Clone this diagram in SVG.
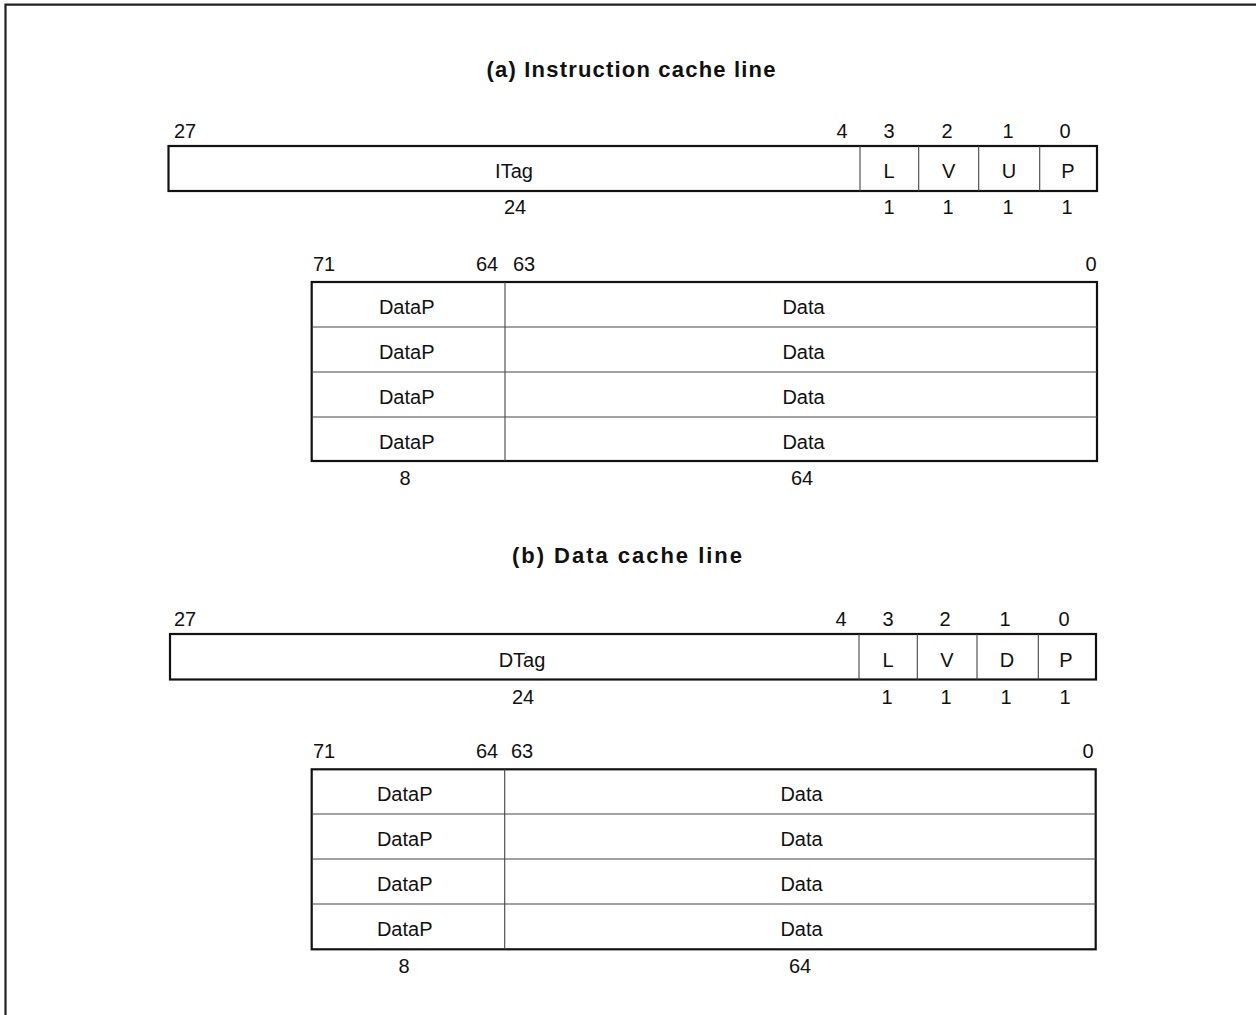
<svg xmlns="http://www.w3.org/2000/svg" width="1256" height="1015" viewBox="0 0 1256 1015">
<style>
text{font-family:"Liberation Sans",Arial,sans-serif;font-size:20px;fill:#111;text-anchor:middle}
.title{font-weight:bold;font-size:22px}
.st{text-anchor:start}
.outer{fill:none;stroke:#111;stroke-width:2.2}
.inner{fill:none;stroke:#444;stroke-width:1.1}
</style>
<rect width="1256" height="1015" fill="#fff"/>
<path d="M5.5,1015 V4.7 H1256" fill="none" stroke="#222" stroke-width="2.2"/>

<!-- (a) Instruction cache line -->
<text class="title" x="631" y="77" textLength="289" lengthAdjust="spacing">(a)  Instruction cache line</text>

<g id="itag-register">
<text class="st" x="174" y="138">27</text>
<text x="842" y="138">4</text>
<text x="889" y="138">3</text>
<text x="947" y="138">2</text>
<text x="1008" y="138">1</text>
<text x="1065" y="138">0</text>
<rect class="outer" x="168.5" y="146" width="928.5" height="45"/>
<line class="inner" x1="860" y1="146" x2="860" y2="191"/>
<line class="inner" x1="918.7" y1="146" x2="918.7" y2="191"/>
<line class="inner" x1="978.7" y1="146" x2="978.7" y2="191"/>
<line class="inner" x1="1039.7" y1="146" x2="1039.7" y2="191"/>
<text x="514" y="178">ITag</text>
<text x="889" y="178">L</text>
<text x="948.7" y="178">V</text>
<text x="1009" y="178">U</text>
<text x="1068" y="178">P</text>
<text x="515" y="214">24</text>
<text x="889" y="214">1</text>
<text x="948" y="214">1</text>
<text x="1008" y="214">1</text>
<text x="1067" y="214">1</text>
</g>

<g id="idata-array">
<text class="st" x="313" y="271">71</text>
<text x="487" y="271">64</text>
<text x="524" y="271">63</text>
<text x="1091" y="271">0</text>
<rect class="outer" x="311.7" y="282" width="785.3" height="179"/>
<line class="inner" x1="505" y1="282" x2="505" y2="461"/>
<line class="inner" x1="311.7" y1="327" x2="1097" y2="327"/>
<line class="inner" x1="311.7" y1="372" x2="1097" y2="372"/>
<line class="inner" x1="311.7" y1="417" x2="1097" y2="417"/>
<text x="406.7" y="314">DataP</text>
<text x="406.7" y="359">DataP</text>
<text x="406.7" y="404">DataP</text>
<text x="406.7" y="449">DataP</text>
<text x="803.5" y="314">Data</text>
<text x="803.5" y="359">Data</text>
<text x="803.5" y="404">Data</text>
<text x="803.5" y="449">Data</text>
<text x="405" y="485">8</text>
<text x="802" y="485">64</text>
</g>

<!-- (b) Data cache line -->
<text class="title" x="627" y="563" textLength="230" lengthAdjust="spacing">(b)  Data cache line</text>

<g id="dtag-register">
<text class="st" x="174" y="626">27</text>
<text x="841" y="626">4</text>
<text x="888" y="626">3</text>
<text x="945" y="626">2</text>
<text x="1005" y="626">1</text>
<text x="1064" y="626">0</text>
<rect class="outer" x="170" y="634" width="926" height="45.5"/>
<line class="inner" x1="859" y1="634" x2="859" y2="679.5"/>
<line class="inner" x1="917.3" y1="634" x2="917.3" y2="679.5"/>
<line class="inner" x1="977" y1="634" x2="977" y2="679.5"/>
<line class="inner" x1="1038.3" y1="634" x2="1038.3" y2="679.5"/>
<text x="522" y="667">DTag</text>
<text x="888" y="667">L</text>
<text x="947" y="667">V</text>
<text x="1007" y="667">D</text>
<text x="1066" y="667">P</text>
<text x="523" y="704">24</text>
<text x="887" y="704">1</text>
<text x="946" y="704">1</text>
<text x="1006" y="704">1</text>
<text x="1065" y="704">1</text>
</g>

<g id="ddata-array">
<text class="st" x="313" y="758">71</text>
<text x="487" y="758">64</text>
<text x="522" y="758">63</text>
<text x="1088" y="758">0</text>
<rect class="outer" x="311.7" y="769.3" width="784" height="180"/>
<line class="inner" x1="504.7" y1="769.3" x2="504.7" y2="949.3"/>
<line class="inner" x1="311.7" y1="814" x2="1095.7" y2="814"/>
<line class="inner" x1="311.7" y1="859" x2="1095.7" y2="859"/>
<line class="inner" x1="311.7" y1="904" x2="1095.7" y2="904"/>
<text x="404.7" y="801">DataP</text>
<text x="404.7" y="846">DataP</text>
<text x="404.7" y="891">DataP</text>
<text x="404.7" y="936">DataP</text>
<text x="801.5" y="801">Data</text>
<text x="801.5" y="846">Data</text>
<text x="801.5" y="891">Data</text>
<text x="801.5" y="936">Data</text>
<text x="404" y="973">8</text>
<text x="800" y="973">64</text>
</g>
<g id="connectors"/>
</svg>
